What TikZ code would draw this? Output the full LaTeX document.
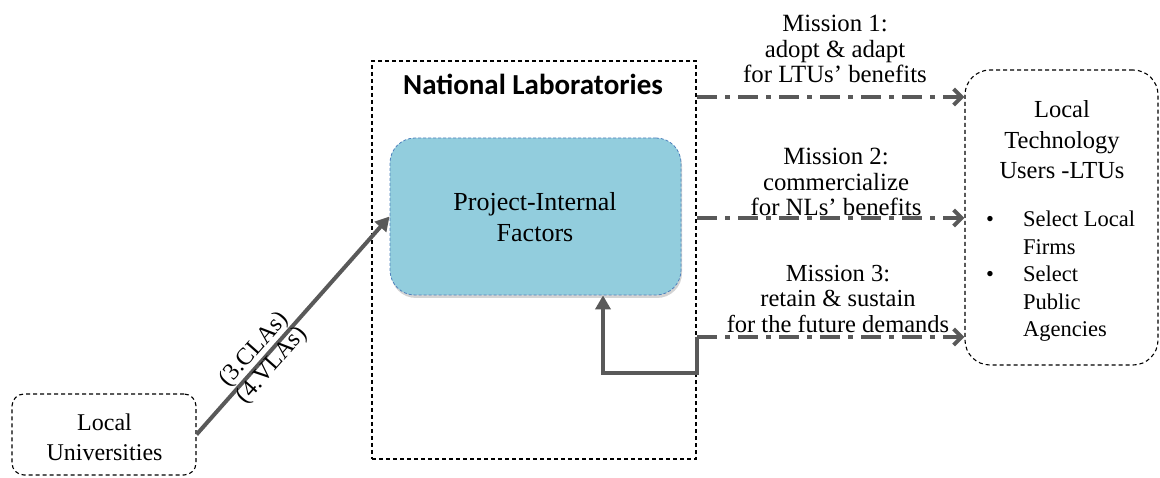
\documentclass[tikz,border=0pt]{standalone}
\usepackage{fontspec}
\setmainfont{Liberation Serif}
\newfontfamily\calibfont{Carlito}
\usetikzlibrary{arrows.meta,shadows}
\definecolor{arrgray}{RGB}{89,89,89}
\definecolor{pifblue}{RGB}{146,205,221}
\definecolor{pifedge}{RGB}{79,129,189}
\newcommand\mlines[3]{{\fontsize{#1}{#2}\selectfont\begin{tabular}[t]{@{}c@{}}#3\end{tabular}}}
\newcommand\mleft[3]{{\fontsize{#1}{#2}\selectfont\begin{tabular}[t]{@{}l@{}}#3\end{tabular}}}
\tikzset{
  boxd/.style={draw=black, line width=1.1pt, dash pattern=on 4pt off 3pt},
  arr/.style={draw=arrgray, line width=4pt},
  solidarr/.style={arr, -{Triangle[length=14pt,width=15pt]}},
  missarr/.style={arr, dash pattern=on 20pt off 8pt on 5pt off 8pt, -{Straight Barb[length=8pt,width=16pt]}},
  txt/.style={inner sep=0pt, anchor=base}
}
\begin{document}
\begin{tikzpicture}[x=1pt,y=-1pt]
\useasboundingbox (0,0) rectangle (1160,478);
% boxes
\node[boxd, rounded corners=12pt, minimum width=184pt, minimum height=81pt] (LU) at (104,434.5) {};
\node[txt] (LUt) at (104.5,431) {\mlines{24}{29}{Local\\Universities}};
\node[boxd, minimum width=324pt, minimum height=398pt] (NL) at (534,260) {};
\node[txt] (NLt) at (533,95) {\calibfont\bfseries\fontsize{29}{32}\selectfont National Laboratories};
\node[draw=pifedge, fill=pifblue, dash pattern=on 3pt off 2pt, line width=0.8pt, rounded corners=25pt,
      minimum width=291pt, minimum height=157pt,
      drop shadow={shadow xshift=1pt, shadow yshift=-3pt, opacity=0.35}] (PIF) at (535.5,216.5) {};
\node[txt] (PIFt) at (535,210.7) {\mlines{26}{31}{Project-Internal\\Factors}};
\node[boxd, rounded corners=25pt, minimum width=193pt, minimum height=295pt] (LTU) at (1061.5,217.5) {};
\node[txt] (LTUt) at (1062,118) {\mlines{24.5}{30.5}{Local\\Technology\\Users -LTUs}};
\node[txt] (b1) at (990,226.7) {\fontsize{22.5}{27.5}\selectfont •};
\node[txt, anchor=base west] (s1) at (1023,226.7) {\mleft{22.5}{27.5}{Select Local\\Firms}};
\node[txt] (b2) at (990,281.7) {\fontsize{22.5}{27.5}\selectfont •};
\node[txt, anchor=base west] (s2) at (1023,281.7) {\mleft{22.5}{27.5}{Select\\Public\\Agencies}};
% mission labels
\node[txt] (M1) at (835,32) {\mlines{24.8}{25.5}{Mission 1:\\adopt \& adapt\\for LTUs’ benefits}};
\node[txt] (M2) at (836,165) {\mlines{24.8}{25.5}{Mission 2:\\commercialize\\for NLs’ benefits}};
\node[txt] (M3) at (838,281.5) {\mlines{24.5}{25.5}{Mission 3:\\retain \& sustain\\for the future demands}};
% connectors
\coordinate (m1s) at (697,97);
\coordinate (m2s) at (697,218);
\coordinate (m3s) at (697,337);
\coordinate (fbc) at (603,373);
\draw[missarr] (m1s) -- (m1s -| LTU.west);
\draw[missarr] (m2s) -- (m2s -| LTU.west);
\draw[missarr] (m3s) -- (m3s -| LTU.west);
\draw[solidarr] (m3s) |- (fbc) -- (fbc |- PIF.south);
\draw[solidarr] (LU.east) -- node[sloped, pos=0.35, inner sep=0pt] (lab) {\mlines{24}{24}{(3.CLAs)\\(4.VLAs)}} (PIF.west);
\end{tikzpicture}
\end{document}
